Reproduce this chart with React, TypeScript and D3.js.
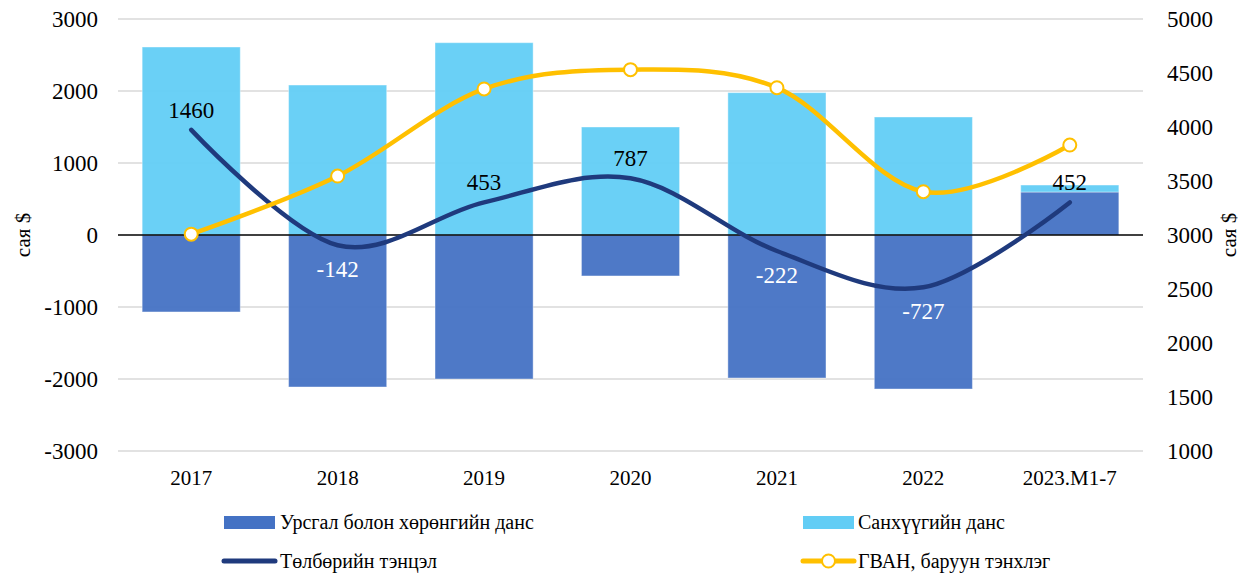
import React from "react";
import * as d3 from "d3";

const categories = ["2017", "2018", "2019", "2020", "2021", "2022", "2023.М1-7"];
const currentCapital = [-1069, -2111, -2000, -569, -1986, -2139, 597];
const financial = [2611, 2083, 2671, 1500, 1977, 1639, 97];
const balance = [1460, -142, 453, 787, -222, -727, 452];
const reserves = [3008, 3546, 4352, 4531, 4364, 3401, 3833];
const leftTicks = [-3000, -2000, -1000, 0, 1000, 2000, 3000];
const rightTicks = [1000, 1500, 2000, 2500, 3000, 3500, 4000, 4500, 5000];
const seriesNames = ["Урсгал болон хөрөнгийн данс", "Санхүүгийн данс", "Төлбөрийн тэнцэл", "ГВАН, баруун тэнхлэг"];

const W = 1243, H = 576;
const M = { left: 118, right: 1143, top: 19, bottom: 451 };
const FONT = "'Liberation Serif', 'Times New Roman', serif";
const C_DARK = "#4472C4";
const C_LIGHT = "#62CDF5";
const C_NAVY = "#1F3A7D";
const C_GOLD = "#FFC000";

const T = (p: any) => <text fontFamily={FONT} fill="#000" {...p} />;

export default function App() {
  const x = d3.scaleBand<string>().domain(categories).range([M.left, M.right]).paddingInner(0.33).paddingOuter(0.165);
  const y = d3.scaleLinear().domain([-3000, 3000]).range([M.bottom, M.top]);
  const y2 = d3.scaleLinear().domain([1000, 5000]).range([M.bottom, M.top]);
  const cx = (c: string) => (x(c) as number) + x.bandwidth() / 2;

  const rows = categories.map((c, i) => ({ cat: c, a: currentCapital[i], b: financial[i] }));
  const stacked = d3.stack<any>().keys(["a", "b"]).offset(d3.stackOffsetDiverging)(rows);
  const colors = [C_DARK, C_LIGHT];

  const curve = d3.curveCatmullRom.alpha(0);
  const balLine = d3.line<number>().x((_, i) => cx(categories[i])).y((d) => y(d)).curve(curve);
  const resLine = d3.line<number>().x((_, i) => cx(categories[i])).y((d) => y2(d)).curve(curve);

  return (
    <svg width={W} height={H} style={{ position: "absolute", left: 0, top: 0 }}>
      <rect width={W} height={H} fill="#fff" />
      {leftTicks.map((t) => (
        <g key={t}>
          {t !== 0 && <line x1={M.left} x2={M.right} y1={y(t)} y2={y(t)} stroke="#d9d9d9" strokeWidth={1.5} />}
          <T x={98} y={y(t)} dy="0.35em" textAnchor="end" fontSize={23}>{t}</T>
        </g>
      ))}
      {rightTicks.map((t) => (
        <T key={t} x={1213} y={y2(t)} dy="0.35em" textAnchor="end" fontSize={23}>{t}</T>
      ))}
      {stacked.map((s, si) => (
        <g key={si}>
          {s.map((d, i) => (
            <rect key={i} x={x(categories[i])} width={x.bandwidth()}
              y={y(Math.max(d[0], d[1]))} height={Math.abs(y(d[0]) - y(d[1]))}
              fill={colors[si]} fillOpacity={0.95} stroke="#ffffff" strokeOpacity={0.4} strokeWidth={1} />
          ))}
        </g>
      ))}
      <line x1={M.left} x2={M.right} y1={y(0)} y2={y(0)} stroke="#000" strokeWidth={1.3} />
      <path d={balLine(balance) || ""} fill="none" stroke={C_NAVY} strokeWidth={4.5} strokeLinecap="round" />
      <path d={resLine(reserves) || ""} fill="none" stroke={C_GOLD} strokeWidth={4.5} strokeLinecap="round" />
      {reserves.map((v, i) => (
        <circle key={i} cx={cx(categories[i])} cy={y2(v)} r={6.5} fill="#fff" stroke={C_GOLD} strokeWidth={2} />
      ))}
      {balance.map((v, i) => (
        <T key={i} x={cx(categories[i])} y={v >= 0 ? y(v) - 12 : y(v) + 32} textAnchor="middle"
          fontSize={23} fill={v >= 0 ? "#000" : "#fff"}>{v}</T>
      ))}
      {categories.map((c) => (
        <T key={c} x={cx(c)} y={485} textAnchor="middle" fontSize={21}>{c}</T>
      ))}
      <T transform={`translate(30,${y(0)}) rotate(-90)`} textAnchor="middle" fontSize={21}>сая $</T>
      <T transform={`translate(1236,${y(0)}) rotate(-90)`} textAnchor="middle" fontSize={21}>сая $</T>
      <rect x={224} y={516} width={51} height={13} fill={C_DARK} />
      <T x={280} y={529} fontSize={20}>{seriesNames[0]}</T>
      <rect x={803} y={516} width={51} height={13} fill={C_LIGHT} />
      <T x={858} y={529} fontSize={20}>{seriesNames[1]}</T>
      <line x1={224} x2={275} y1={561} y2={561} stroke={C_NAVY} strokeWidth={5} strokeLinecap="round" />
      <T x={280} y={568} fontSize={20}>{seriesNames[2]}</T>
      <line x1={803} x2={854} y1={561} y2={561} stroke={C_GOLD} strokeWidth={5} strokeLinecap="round" />
      <circle cx={828.5} cy={561} r={6.5} fill="#fff" stroke={C_GOLD} strokeWidth={2} />
      <T x={858} y={568} fontSize={20}>{seriesNames[3]}</T>
    </svg>
  );
}
